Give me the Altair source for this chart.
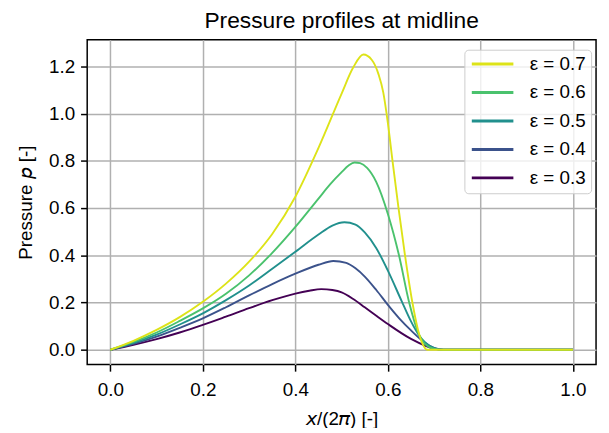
import altair as alt
import pandas as pd

# eps = 0.7
x_e07 = [0, 0.05, 0.1, 0.15, 0.2, 0.25, 0.3, 0.35, 0.4, 0.45, 0.5, 0.525, 0.547, 0.565, 0.58, 0.59,
         0.6, 0.61, 0.623, 0.637, 0.653, 0.665, 0.675, 0.685, 0.72, 0.8, 0.9, 1.0]
p_e07 = [0, 0.038, 0.084, 0.138, 0.203, 0.28, 0.373, 0.49, 0.648, 0.855, 1.085, 1.195, 1.25, 1.228, 1.165, 1.09,
         0.96, 0.8, 0.6, 0.4, 0.2, 0.085, 0.025, 0.0, 0, 0, 0, 0]
# eps = 0.6
x_e06 = [0, 0.05, 0.1, 0.15, 0.2, 0.25, 0.3, 0.35, 0.4, 0.45, 0.475, 0.5, 0.515, 0.528, 0.54, 0.555,
         0.575, 0.6, 0.624, 0.646, 0.665, 0.68, 0.7, 0.72, 0.8, 0.9, 1.0]
p_e06 = [0, 0.033, 0.073, 0.122, 0.175, 0.237, 0.315, 0.41, 0.52, 0.64, 0.70, 0.752, 0.78, 0.793, 0.79, 0.77,
         0.71, 0.575, 0.4, 0.2, 0.075, 0.025, 0.004, 0, 0, 0, 0]
# eps = 0.5
x_e05 = [0, 0.05, 0.1, 0.15, 0.2, 0.25, 0.3, 0.35, 0.4, 0.45, 0.48, 0.506, 0.53, 0.55, 0.575, 0.6,
         0.63, 0.65, 0.665, 0.68, 0.7, 0.72, 0.8, 0.9, 1.0]
p_e05 = [0, 0.029, 0.064, 0.107, 0.154, 0.21, 0.272, 0.343, 0.415, 0.488, 0.526, 0.54, 0.53, 0.497, 0.43, 0.335,
         0.205, 0.12, 0.068, 0.032, 0.007, 0, 0, 0, 0]
# eps = 0.4
x_e04 = [0, 0.05, 0.1, 0.15, 0.2, 0.25, 0.3, 0.35, 0.4, 0.45, 0.482, 0.51, 0.53, 0.55, 0.575, 0.6,
         0.625, 0.65, 0.68, 0.7, 0.72, 0.8, 0.9, 1.0]
p_e04 = [0, 0.025, 0.056, 0.093, 0.133, 0.18, 0.23, 0.278, 0.322, 0.36, 0.376, 0.368, 0.345, 0.31, 0.253, 0.19,
         0.132, 0.082, 0.03, 0.008, 0, 0, 0, 0]
# eps = 0.3
x_e03 = [0, 0.05, 0.1, 0.15, 0.2, 0.25, 0.3, 0.35, 0.4, 0.43, 0.456, 0.48, 0.5, 0.525, 0.55, 0.575,
         0.6, 0.65, 0.68, 0.7, 0.72, 0.8, 0.9, 1.0]
p_e03 = [0, 0.021, 0.045, 0.073, 0.105, 0.14, 0.176, 0.21, 0.238, 0.25, 0.257, 0.253, 0.243, 0.215, 0.18, 0.144,
         0.109, 0.046, 0.018, 0.005, 0, 0, 0, 0]

labels = ["ε = 0.7", "ε = 0.6", "ε = 0.5", "ε = 0.4", "ε = 0.3"]
colors = ["#dde318", "#4ac26d", "#21908d", "#3b528b", "#440154"]
x_ticks = [0.0, 0.2, 0.4, 0.6, 0.8, 1.0]
y_ticks = [0.0, 0.2, 0.4, 0.6, 0.8, 1.0, 1.2]

series = [(labels[4], x_e03, p_e03), (labels[3], x_e04, p_e04), (labels[2], x_e05, p_e05),
          (labels[1], x_e06, p_e06), (labels[0], x_e07, p_e07)]
rows = []
for lab, xs, ps in series:
    for xv, pv in zip(xs, ps):
        rows.append({"label": lab, "x": xv, "p": pv})
df = pd.DataFrame(rows)

FONT = "Liberation Sans"

chart = alt.Chart(df).mark_line(strokeWidth=1.9, interpolate="monotone").encode(
    x=alt.X("x:Q",
            scale=alt.Scale(domain=[-0.05, 1.05], nice=False, zero=False),
            axis=alt.Axis(values=x_ticks, format=".1f", title="\U0001D639/(2\U0001D70B) [-]",
                          titlePadding=10, labelPadding=10)),
    y=alt.Y("p:Q",
            scale=alt.Scale(domain=[-0.0625, 1.3125], nice=False, zero=False),
            axis=alt.Axis(values=y_ticks, format=".1f", title="Pressure \U0001D631 [-]",
                          titlePadding=13, labelPadding=6)),
    color=alt.Color("label:N",
                    scale=alt.Scale(domain=labels, range=colors),
                    legend=alt.Legend(orient="none", legendX=381, legendY=10, title=None,
                                      symbolType="M-1,0H5", symbolSize=196, symbolStrokeWidth=2.9,
                                      labelFontSize=19, labelFont=FONT, labelColor="black",
                                      padding=5, labelOffset=42, rowPadding=8.75,
                                      fillColor="rgba(255,255,255,0.8)", strokeColor="#cccccc",
                                      cornerRadius=4)),
).properties(
    width=514,
    height=328,
    autosize=alt.AutoSizeParams(type="none"),
    padding={"left": 80, "top": 30, "right": 5, "bottom": 62},
    title=alt.TitleParams("Pressure profiles at midline", fontSize=23, font=FONT,
                          fontWeight="normal", color="black", anchor="middle", offset=7),
).configure_view(
    stroke="black", strokeWidth=1.5
).configure_axis(
    grid=True, gridColor="#b0b0b0", gridWidth=1.5, domain=False,
    tickColor="black", tickSize=6.7, tickWidth=1.5,
    labelFont=FONT, labelFontSize=19, labelColor="black",
    titleFont=FONT, titleFontSize=19, titleFontWeight="normal", titleColor="black",
)

chart.save("out.html", embed_options={"renderer": "svg", "actions": False})
